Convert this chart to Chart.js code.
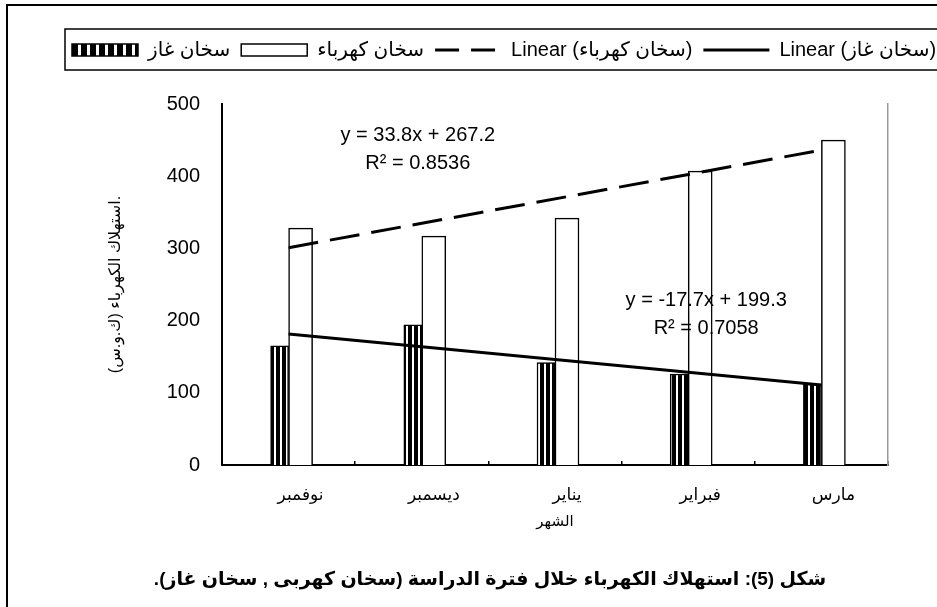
<!DOCTYPE html>
<html>
<head>
<meta charset="utf-8">
<script src="https://cdn.jsdelivr.net/npm/chart.js@4.4.0/dist/chart.umd.min.js"></script>
<style>
  html, body { margin: 0; padding: 0; background: #fff; overflow: hidden; }
  #frame { position: absolute; left: 6px; top: 4px; width: 2000px; height: 2000px; border: 2px solid #000; }
  #energy { position: absolute; left: 0; top: 0; }
</style>
</head>
<body>
<div id="frame"></div>
<canvas id="energy" width="1000" height="607"></canvas>
<script>
const months = ['نوفمبر', 'ديسمبر', 'يناير', 'فبراير', 'مارس'];
const gasHeater = [165, 194, 142, 126, 112];
const elecHeater = [328, 317, 342, 407, 450];
// trend end points (first and last month)
const gasTrend = [181.6, null, null, null, 110.8];
const elecTrend = [301.0, null, null, null, 436.2];
const yTicks = [0, 100, 200, 300, 400, 500];
const seriesNames = ['سخان غاز', 'سخان كهرباء', 'Linear (سخان كهرباء)', 'Linear (سخان غاز)'];
const elecEq = ['y = 33.8x + 267.2', 'R² = 0.8536'];
const gasEq = ['y = -17.7x + 199.3', 'R² = 0.7058'];

const FONT = "'Liberation Sans', Arial, 'DejaVu Sans', sans-serif";
const cv = document.getElementById('energy');
const ctx = cv.getContext('2d');

function stripes(period, dark) {
  const tile = document.createElement('canvas');
  tile.width = period; tile.height = 4;
  const t = tile.getContext('2d');
  t.fillStyle = '#fff'; t.fillRect(0, 0, period, 4);
  t.fillStyle = '#000'; t.fillRect(0, 0, dark, 4);
  return ctx.createPattern(tile, 'repeat');
}
const barStripes = stripes(6, 4);
const legendStripes = stripes(9, 6);

// extra room under the legend box + its frame
const legendGap = {
  id: 'legendGap',
  afterInit(chart) {
    const fit = chart.legend.fit;
    chart.legend.fit = function () { fit.call(this); this.height += 34; };
  },
  beforeDraw(chart) {
    const lg = chart.legend;
    const c = chart.ctx;
    c.save();
    c.strokeStyle = '#000';
    c.lineWidth = 1.5;
    c.strokeRect(65, lg.top, 1200, lg.height - 34);
    c.restore();
  }
};

const notes = {
  id: 'notes',
  afterDraw(chart) {
    const {x, y} = chart.scales;
    const c = chart.ctx;
    c.save();
    c.fillStyle = '#000';
    c.textAlign = 'center';
    c.textBaseline = 'middle';
    c.font = '20px ' + FONT;
    c.fillText(elecEq[0], x.getPixelForValue(1) - 4, y.getPixelForValue(457));
    c.fillText(elecEq[1], x.getPixelForValue(1) - 4, y.getPixelForValue(418));
    c.fillText(gasEq[0], x.getPixelForValue(3) + 18, y.getPixelForValue(228));
    c.fillText(gasEq[1], x.getPixelForValue(3) + 18, y.getPixelForValue(189));
    c.font = 'bold 19px ' + FONT;
    c.direction = 'rtl';
    c.fillText('شكل (5): استهلاك الكهرباء خلال فترة الدراسة (سخان كهربى , سخان غاز).', 490, 580);
    c.restore();
  }
};

const data = {
  labels: months,
  datasets: [
    {
      label: seriesNames[0],
      data: gasHeater,
      backgroundColor: barStripes,
      borderColor: '#000',
      borderWidth: 1.5,
      barThickness: 18,
      order: 2
    },
    {
      label: seriesNames[1],
      data: elecHeater,
      backgroundColor: '#fff',
      borderColor: '#000',
      borderWidth: 1.5,
      barThickness: 24,
      order: 2
    },
    {
      type: 'line',
      label: seriesNames[2],
      data: elecTrend,
      borderColor: '#000',
      borderWidth: 3,
      borderDash: [30, 12],
      pointRadius: 0,
      spanGaps: true,
      order: 1
    },
    {
      type: 'line',
      label: seriesNames[3],
      data: gasTrend,
      borderColor: '#000',
      borderWidth: 3,
      pointRadius: 0,
      spanGaps: true,
      order: 1
    }
  ]
};

const config = {
  type: 'bar',
  data: data,
  options: {
    responsive: false,
    animation: false,
    layout: { padding: { left: 61, top: 29, right: 0, bottom: 72 } },
    plugins: {
      tooltip: { enabled: false },
      legend: {
        position: 'top',
        align: 'start',
        labels: {
          usePointStyle: true,
          pointStyleWidth: 66,
          boxHeight: 12,
          padding: 11,
          color: '#000',
          font: { family: FONT, size: 20 },
          generateLabels(chart) {
            return chart.data.datasets.map((ds, i) => {
              const isLine = ds.type === 'line';
              return {
                text: ds.label,
                datasetIndex: i,
                pointStyle: isLine ? 'line' : 'rect',
                fillStyle: i === 0 ? legendStripes : '#fff',
                strokeStyle: '#000',
                lineWidth: isLine ? 3 : 1.5,
                lineDash: i === 2 ? [24, 12] : [],
                fontColor: '#000',
                hidden: false
              };
            });
          }
        }
      }
    },
    scales: {
      x: {
        offset: true,
        grid: { display: true, offset: true, drawOnChartArea: false, drawTicks: true, tickLength: -4, color: '#000', lineWidth: 1.5 },
        border: { display: true, color: '#000', width: 2 },
        ticks: { color: '#000', font: { family: FONT, size: 17 }, padding: 24, labelOffset: 12 },
        title: { display: true, text: 'الشهر', color: '#000', font: { family: FONT, size: 15 }, padding: { top: 2, bottom: 4 } },
        afterFit(s) { s.height = 70; }
      },
      y: {
        min: 0,
        max: 500,
        afterBuildTicks(s) { s.ticks = yTicks.map(v => ({ value: v })); },
        grid: { display: false },
        border: { display: true, color: '#000', width: 2 },
        ticks: { color: '#000', font: { family: FONT, size: 20 }, padding: 14 },
        title: { display: true, text: 'استهلاك الكهرباء (ك.و.س).', color: '#000', font: { family: FONT, size: 16 }, padding: { top: 45 } },
        afterFit(s) { s.width = 161; }
      },
      yEdge: {
        position: 'right',
        min: 0,
        max: 500,
        grid: { display: false },
        ticks: { display: false },
        border: { display: true, color: '#999', width: 1.5 },
        afterFit(s) { s.width = 112; }
      }
    }
  },
  plugins: [legendGap, notes]
};

new Chart(cv, config);
</script>
</body>
</html>
